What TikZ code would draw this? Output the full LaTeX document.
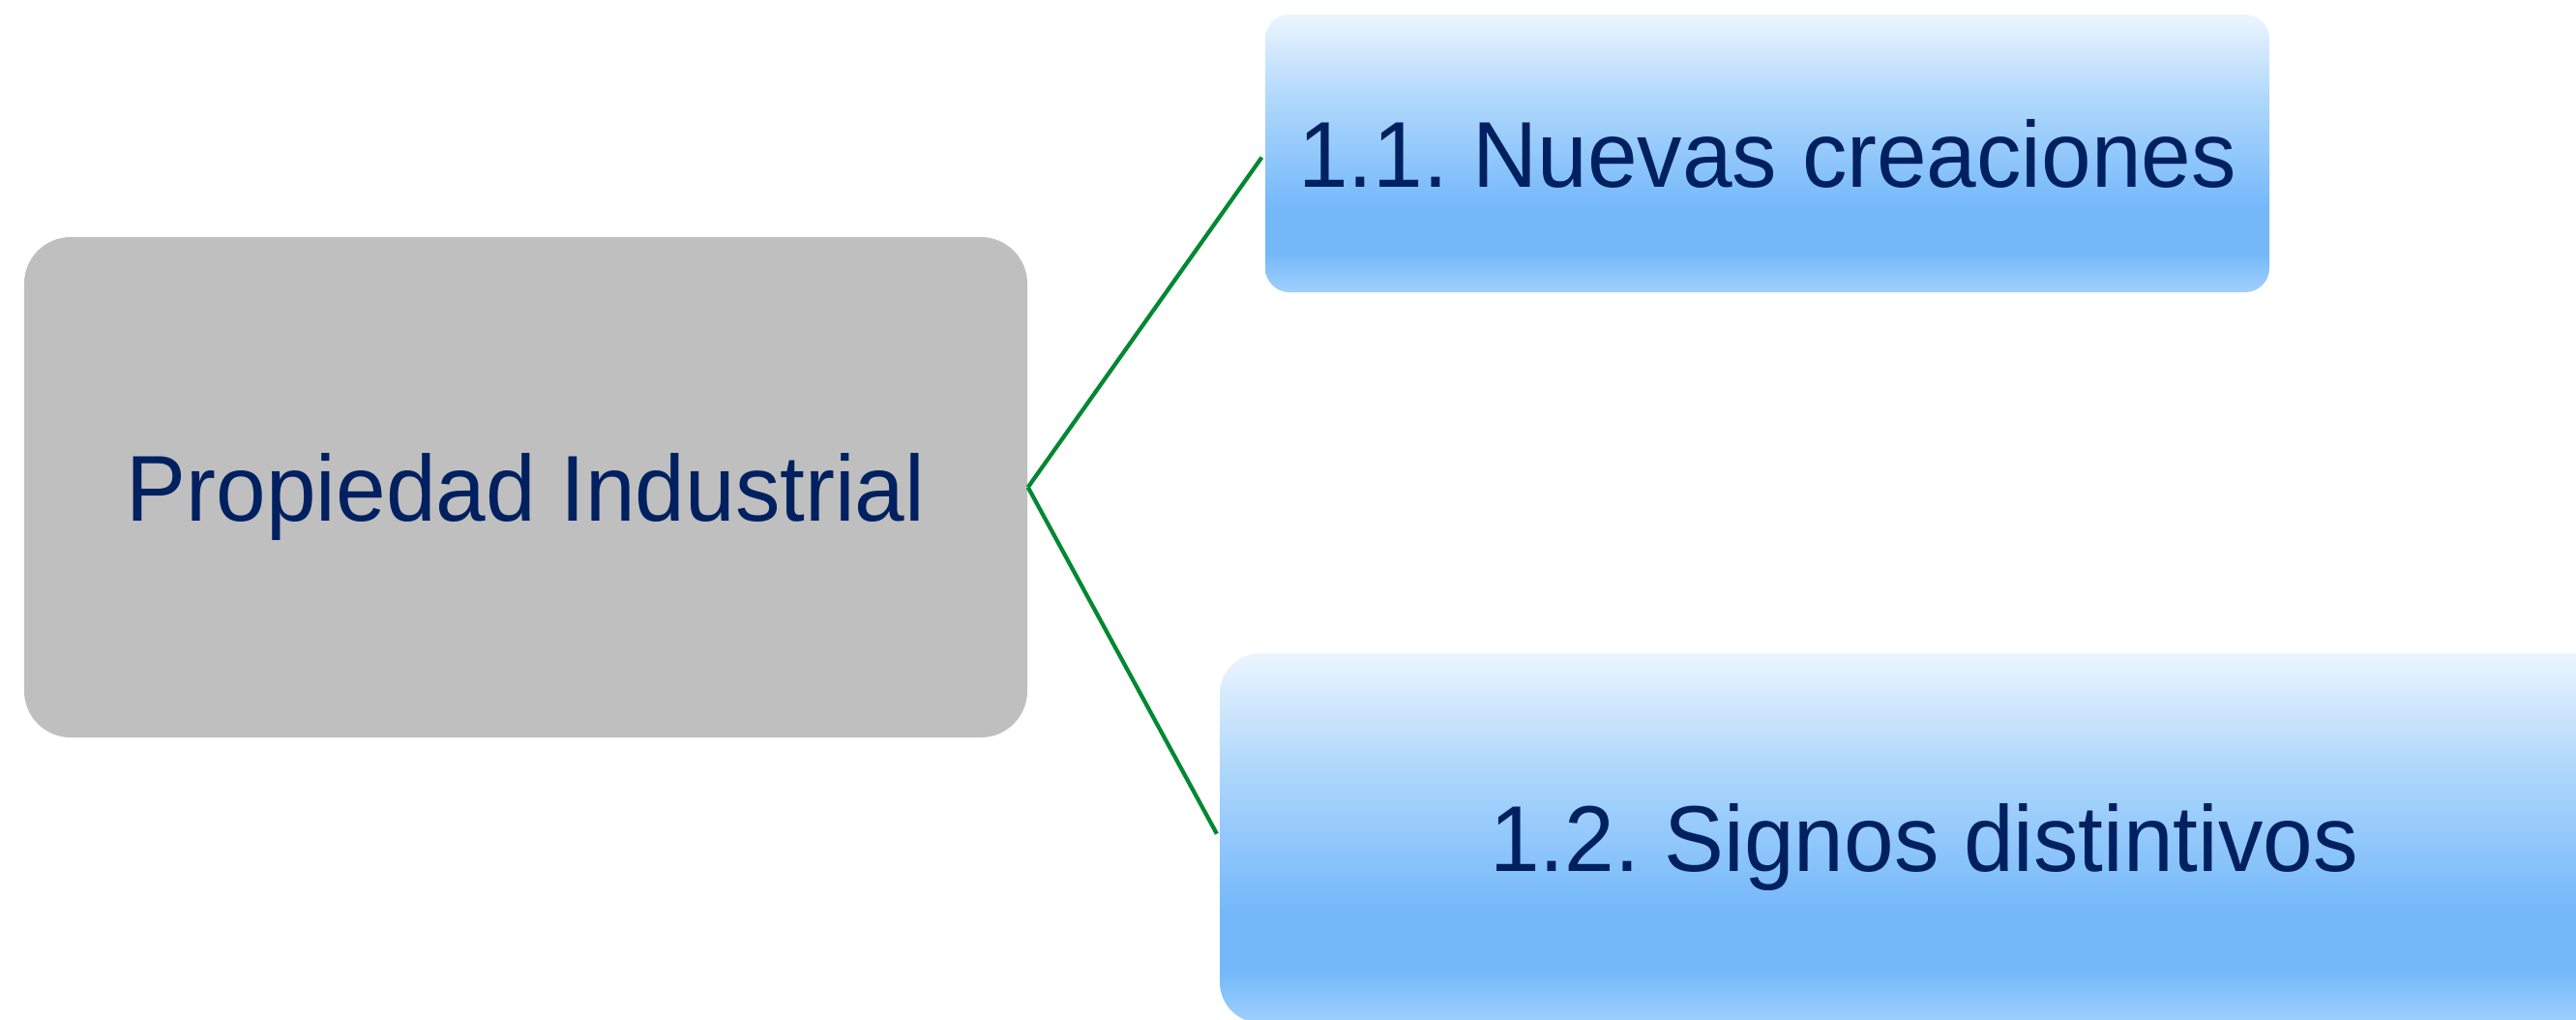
\documentclass[tikz,border=0pt]{standalone}
\usepackage{fontspec}
\setmainfont{Liberation Sans}[FakeStretch=0.96]
\usetikzlibrary{positioning}
\frenchspacing
\definecolor{txtnavy}{RGB}{0,32,96}
\definecolor{boxgray}{RGB}{191,191,191}
\definecolor{linkgreen}{RGB}{0,136,50}
\definecolor{btop}{RGB}{236,245,254}
\definecolor{bmid}{RGB}{176,216,251}
\definecolor{blow}{RGB}{116,184,250}
\definecolor{bbot}{RGB}{160,208,252}
% stops 25bp..75bp are the node itself
\pgfdeclareverticalshading{bluefade}{100bp}{color(0bp)=(bbot); color(25bp)=(bbot);
  color(32bp)=(blow); color(40bp)=(blow); color(60bp)=(bmid); color(75bp)=(btop); color(100bp)=(btop)}
\tikzset{
  topic/.style={rectangle, rounded corners=#1, align=center, text=txtnavy,
    font=\fontsize{27.5}{33}\selectfont, inner sep=0pt, text height=19.7pt, text depth=0pt},
  mainbox/.style={topic=4.8mm, fill=boxgray, minimum width=10.37cm, minimum height=5.17cm},
  subbox/.style={topic=2.5mm, shading=bluefade},
  link/.style={draw=linkgreen, line width=1.2pt, shorten >=0.05cm}
}
\begin{document}
\begin{tikzpicture}
\useasboundingbox (0,0) rectangle (26.63,-10.53);
\node[mainbox] (prop) at (5.435,-5.035) {Propiedad Industrial};
\node[subbox, minimum width=10.38cm, minimum height=2.87cm] (nuevas) at (18.27,-1.585) {1.1. Nuevas creaciones};
\node[subbox, rounded corners=4.2mm, minimum width=14.56cm, minimum height=3.82cm] (signos) at (19.89,-8.66) {1.2. Signos distintivos};
% ramas
\draw[link] (prop.east) -- (nuevas.west);
\draw[link] (prop.east) -- (signos.west);
\end{tikzpicture}
\end{document}
